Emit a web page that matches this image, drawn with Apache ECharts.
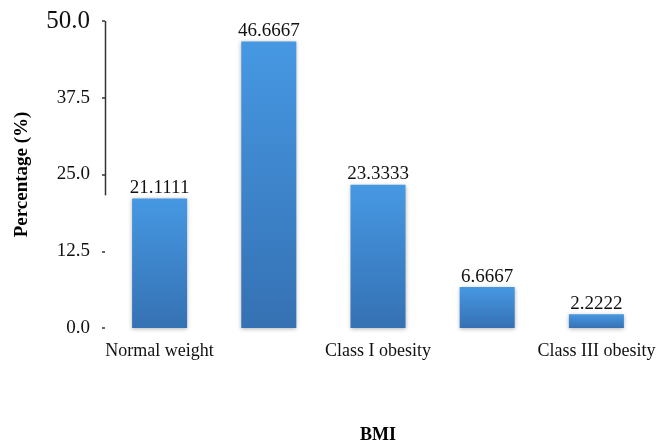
<!DOCTYPE html>
<html>
<head>
<meta charset="utf-8">
<script src="https://cdn.jsdelivr.net/npm/echarts@6/dist/echarts.min.js"></script>
<style>
  html, body { margin: 0; padding: 0; background: #fff; }
  #chart { width: 660px; height: 443px; }
</style>
</head>
<body>
<div id="chart"></div>
<script>
// BMI categories and share of participants (%)
const categories = ['Normal weight', 'Overweight', 'Class I obesity', 'Class II obesity', 'Class III obesity'];
const percentages = [21.1111, 46.6667, 23.3333, 6.6667, 2.2222];
const yTicks = [0, 12.5, 25, 37.5, 50];
// visible stretch of the value axis line (from top down to this value)
const axisLineTo = 21.6;

const FONT = '"Liberation Serif", "Times New Roman", serif';

const chart = echarts.init(document.getElementById('chart'), null, { renderer: 'canvas' });

chart.setOption({
  animation: false,
  backgroundColor: '#ffffff',
  grid: {
    left: 105, right: 9, top: 21, bottom: 115,
    containLabel: false,
    outerBoundsMode: 'none'
  },
  xAxis: {
    type: 'category',
    data: categories,
    name: 'BMI',
    nameLocation: 'middle',
    nameGap: 98,
    nameTextStyle: { fontFamily: FONT, fontWeight: 'bold', fontSize: 18, color: '#000' },
    axisLine: { show: false },
    axisTick: { show: false },
    axisLabel: {
      interval: 1,
      margin: 14,
      fontFamily: FONT,
      fontSize: 18,
      color: '#111'
    }
  },
  yAxis: {
    type: 'value',
    min: yTicks[0],
    max: yTicks[yTicks.length - 1],
    interval: yTicks[1] - yTicks[0],
    name: 'Percentage (%)',
    nameLocation: 'middle',
    nameGap: 73,
    nameTextStyle: { fontFamily: FONT, fontWeight: 'bold', fontSize: 19, color: '#000' },
    splitLine: { show: false },
    axisLine: { show: false },
    axisTick: { show: true, length: 3, lineStyle: { color: '#333', width: 1.5 } },
    axisLabel: {
      margin: 15,
      fontFamily: FONT,
      fontSize: 19,
      color: '#111',
      formatter: function (v) {
        const s = v.toFixed(1);
        return v === yTicks[yTicks.length - 1] ? '{big|' + s + '}' : s;
      },
      rich: {
        big: { fontFamily: FONT, fontSize: 25, color: '#111' }
      }
    }
  },
  series: [{
    type: 'bar',
    data: percentages,
    barWidth: 55,
    itemStyle: {
      color: new echarts.graphic.LinearGradient(0, 0, 0, 1, [
        { offset: 0, color: '#4698E3' },
        { offset: 1, color: '#3571B3' }
      ]),
      shadowBlur: 4,
      shadowColor: 'rgba(0,0,0,0.3)',
      shadowOffsetY: 1
    },
    label: {
      show: true,
      position: 'top',
      distance: 1,
      fontFamily: FONT,
      fontSize: 19,
      color: '#111',
      formatter: function (p) { return p.value.toFixed(4); }
    }
  }]
});

// partial vertical axis line drawn at the grid's left edge
function drawAxisLine() {
  const top = chart.convertToPixel({ yAxisIndex: 0 }, yTicks[yTicks.length - 1]);
  const bottom = chart.convertToPixel({ yAxisIndex: 0 }, axisLineTo);
  const x = 105.5;
  chart.setOption({
    graphic: [{
      type: 'line',
      shape: { x1: x, y1: top, x2: x, y2: bottom },
      style: { stroke: '#333', lineWidth: 1.5 },
      z: 10
    }]
  });
}
drawAxisLine();
</script>
</body>
</html>
